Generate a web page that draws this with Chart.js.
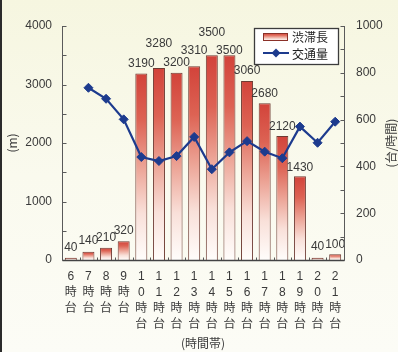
<!DOCTYPE html>
<html lang="ja">
<head>
<meta charset="utf-8">
<script src="https://cdn.jsdelivr.net/npm/chart.js@4/dist/chart.umd.min.js"></script>
<style>
  html, body { margin: 0; padding: 0; background: #f8f8ea; }
  canvas { display: block; }
</style>
</head>
<body>
<canvas id="chart" width="398" height="352"></canvas>
<script>
// Hourly congestion length (m) and traffic volume (vehicles/hour)
const hours = ['6', '7', '8', '9', '10', '11', '12', '13', '14', '15', '16', '17', '18', '19', '20', '21'];
const jamLength = [40, 140, 210, 320, 3190, 3280, 3200, 3310, 3500, 3500, 3060, 2680, 2120, 1430, 40, 100];
const trafficVolume = [null, 736, 689, 601, 440, 423, 444, 526, 388, 460, 508, 463, 435, 570, 501, 591];
const lengthTicks = [0, 1000, 2000, 3000, 4000];
const volumeTicks = [0, 200, 400, 600, 800, 1000];
// Extra lift (px) above each bar for its value label, staggered where labels crowd
const labelLift = [10, 11, 10, 11, 10, 24, 10, 16, 23, 5, 10, 10, 9, 9, 11, 9];

const seriesNames = ['渋滞長', '交通量'];
const axisTitles = { x: '(時間帯)', left: '(m)', right: '(台/時間)' };

// Vertical stacked category labels: digits, then 時, then 台
const categoryLabels = hours.map(h => [...h.split(''), '時', '台']);

const NUM_FONT = '"Liberation Sans", "Noto Sans CJK JP", sans-serif';
const JP_FONT = '"Noto Sans CJK JP", "Liberation Sans", sans-serif';
const INK = '#3a3a3a';
const AXIS = '#5a5a5a';
const BLUE = '#1d3b8e';

function barGradient(g) {
  g.addColorStop(0, '#d2433a');
  g.addColorStop(0.25, '#dd6354');
  g.addColorStop(0.5, '#eca395');
  g.addColorStop(0.75, '#f9e0d9');
  g.addColorStop(1, '#fffdfb');
  return g;
}

const decorations = {
  id: 'decorations',
  beforeDraw(chart) {
    const { ctx, width, height } = chart;
    ctx.save();
    const bg = ctx.createLinearGradient(0, 0, 0, height);
    bg.addColorStop(0, '#f6f6e0');
    bg.addColorStop(0.5, '#fafaee');
    bg.addColorStop(1, '#fcfcf6');
    ctx.fillStyle = bg;
    ctx.fillRect(0, 0, width, height);
    // page edge on the left
    ctx.fillStyle = '#2b2b2b';
    ctx.fillRect(0, 0, 2, height);
    ctx.restore();
  },
  afterDatasetsDraw(chart) {
    const { ctx } = chart;
    const meta = chart.getDatasetMeta(0);
    ctx.save();
    ctx.font = '12px ' + NUM_FONT;
    ctx.fillStyle = INK;
    ctx.textAlign = 'center';
    ctx.textBaseline = 'middle';
    meta.data.forEach((bar, i) => {
      ctx.fillText(String(jamLength[i]), bar.x, bar.y - labelLift[i]);
    });
    ctx.restore();
  },
  afterDraw(chart) {
    const { ctx, chartArea: a, scales } = chart;
    const L = Math.round(a.left) + 0.5, R = Math.round(a.right) + 0.5;
    const T = a.top, B = Math.round(a.bottom) + 0.5;
    ctx.save();
    ctx.strokeStyle = AXIS;
    ctx.lineWidth = 1;
    ctx.beginPath();
    // axis lines
    ctx.moveTo(L, T); ctx.lineTo(L, B);
    ctx.moveTo(R, T); ctx.lineTo(R, B);
    // inward ticks, left axis every 500
    for (let v = 0; v <= 4000; v += 500) {
      const y = Math.round(scales.y.getPixelForValue(v)) + 0.5;
      ctx.moveTo(L, y); ctx.lineTo(L + 4, y);
    }
    // inward ticks, right axis every 100
    for (let v = 0; v <= 1000; v += 100) {
      const y = Math.round(scales.y1.getPixelForValue(v)) + 0.5;
      ctx.moveTo(R, y); ctx.lineTo(R - 4, y);
    }
    // category boundary ticks
    const step = (a.right - a.left) / hours.length;
    for (let i = 1; i < hours.length; i++) {
      const x = Math.round(a.left + step * i) + 0.5;
      ctx.moveTo(x, B); ctx.lineTo(x, B - 3);
    }
    ctx.stroke();
    // bottom axis a bit heavier
    ctx.beginPath();
    ctx.lineWidth = 1.5;
    ctx.strokeStyle = '#444';
    ctx.moveTo(L, B); ctx.lineTo(R, B);
    ctx.stroke();

    // axis titles
    ctx.fillStyle = INK;
    ctx.font = '12px ' + JP_FONT;
    ctx.textAlign = 'center';
    ctx.textBaseline = 'middle';
    ctx.fillText(axisTitles.x, (a.left + a.right) / 2, 343);
    const midY = (a.top + a.bottom) / 2;
    ctx.save();
    ctx.translate(12, midY);
    ctx.rotate(-Math.PI / 2);
    ctx.fillText(axisTitles.left, 0, 0);
    ctx.restore();
    ctx.save();
    ctx.translate(391, midY);
    ctx.rotate(-Math.PI / 2);
    ctx.fillText(axisTitles.right, 0, 0);
    ctx.restore();

    // legend box
    const bx = 254.5, by = 28.5, bw = 84, bh = 36;
    ctx.fillStyle = '#ffffff';
    ctx.fillRect(bx, by, bw, bh);
    ctx.strokeStyle = '#3c3c3c';
    ctx.lineWidth = 1.3;
    ctx.strokeRect(bx, by, bw, bh);
    // bar swatch
    const sg = barGradient(ctx.createLinearGradient(0, 33, 0, 41));
    ctx.fillStyle = sg;
    ctx.fillRect(263, 33.5, 24, 7);
    ctx.strokeStyle = '#8a3028';
    ctx.lineWidth = 1;
    ctx.strokeRect(263.5, 33.5, 24, 7);
    // line swatch
    ctx.strokeStyle = BLUE;
    ctx.lineWidth = 2;
    ctx.beginPath();
    ctx.moveTo(263, 53); ctx.lineTo(289, 53);
    ctx.stroke();
    ctx.fillStyle = BLUE;
    ctx.beginPath();
    ctx.moveTo(276, 48.5); ctx.lineTo(280.5, 53); ctx.lineTo(276, 57.5); ctx.lineTo(271.5, 53);
    ctx.closePath();
    ctx.fill();
    ctx.fillStyle = '#222';
    ctx.font = '12px ' + JP_FONT;
    ctx.textAlign = 'left';
    ctx.fillText(seriesNames[0], 292, 37);
    ctx.fillText(seriesNames[1], 292, 54);
    ctx.restore();
  }
};

const plainTick = v => String(v);

new Chart(document.getElementById('chart'), {
  data: {
    labels: categoryLabels,
    datasets: [
      {
        type: 'bar',
        label: seriesNames[0],
        data: jamLength,
        yAxisID: 'y',
        order: 1,
        barPercentage: 0.68,
        categoryPercentage: 1,
        borderWidth: 1,
        borderColor: '#6e3b33',
        backgroundColor(c) {
          const chart = c.chart;
          if (!chart.chartArea || c.type !== 'data') return '#e07060';
          const y = chart.scales.y;
          const top = y.getPixelForValue(c.raw);
          const base = y.getPixelForValue(0);
          if (!isFinite(top) || base - top < 1) return '#e07060';
          return barGradient(chart.ctx.createLinearGradient(0, top, 0, base));
        }
      },
      {
        type: 'line',
        label: seriesNames[1],
        data: trafficVolume,
        yAxisID: 'y1',
        order: 0,
        borderColor: BLUE,
        borderWidth: 2.2,
        tension: 0,
        pointStyle: 'rectRot',
        pointRadius: 4.5,
        pointBackgroundColor: BLUE,
        pointBorderColor: BLUE,
        pointBorderWidth: 1
      }
    ]
  },
  options: {
    responsive: false,
    animation: false,
    devicePixelRatio: 1,
    layout: { padding: { top: 26, left: 0, right: 0, bottom: 0 } },
    plugins: { legend: { display: false }, tooltip: { enabled: false } },
    scales: {
      x: {
        type: 'category',
        offset: true,
        grid: { display: false, drawTicks: false },
        border: { display: false },
        ticks: {
          autoSkip: false, maxRotation: 0, minRotation: 0, padding: 9,
          color: INK, font: { family: NUM_FONT, size: 12, lineHeight: '16px' }
        },
        afterFit(s) { s.height = 92; }
      },
      y: {
        position: 'left',
        min: lengthTicks[0], max: lengthTicks[lengthTicks.length - 1],
        grid: { display: false, drawTicks: false },
        border: { display: false },
        afterBuildTicks(s) { s.ticks = lengthTicks.map(v => ({ value: v })); },
        ticks: { padding: 10, color: INK, font: { family: NUM_FONT, size: 12 }, callback: plainTick },
        afterFit(s) { s.width = 62; }
      },
      y1: {
        position: 'right',
        min: volumeTicks[0], max: volumeTicks[volumeTicks.length - 1],
        grid: { display: false, drawTicks: false },
        border: { display: false },
        afterBuildTicks(s) { s.ticks = volumeTicks.map(v => ({ value: v })); },
        ticks: { padding: 12, color: INK, font: { family: NUM_FONT, size: 12 }, callback: plainTick },
        afterFit(s) { s.width = 54; }
      }
    }
  },
  plugins: [decorations]
});
</script>
</body>
</html>
